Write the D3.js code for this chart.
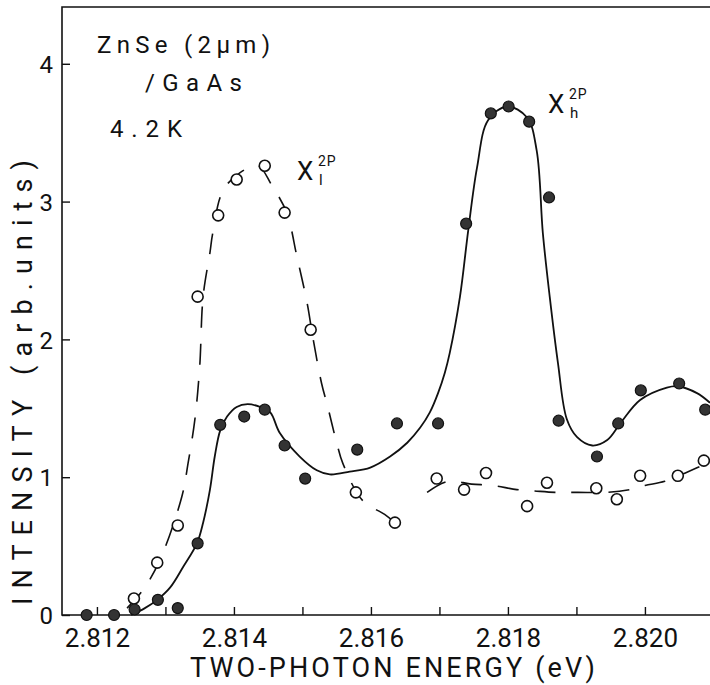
<!DOCTYPE html>
<html>
<head>
<meta charset="utf-8">
<script src="https://cdn.jsdelivr.net/npm/d3@7"></script>
<style>
  html, body { margin: 0; padding: 0; background: #fff; }
  svg text { font-family: Roboto, "DejaVu Sans", sans-serif; fill: #111; }
</style>
</head>
<body>
<svg id="chart" width="710" height="685"></svg>
<script>
// ---- data ----
// X_h^2P : filled circles
const hEnergy = [2.81185, 2.81225, 2.81255, 2.81289, 2.81318, 2.81347, 2.81380, 2.81415, 2.81445, 2.81474, 2.81504,
                 2.81580, 2.81638, 2.81698, 2.81739, 2.81775, 2.81801, 2.81831, 2.81860, 2.81874, 2.81930, 2.81961,
                 2.81994, 2.82050, 2.82088];
const hIntensity = [0.00, 0.00, 0.04, 0.11, 0.05, 0.52, 1.38, 1.44, 1.49, 1.23, 0.99,
                    1.20, 1.39, 1.39, 2.84, 3.64, 3.69, 3.58, 3.03, 1.41, 1.15, 1.39,
                    1.63, 1.68, 1.49];
// X_l^2P : open circles
const lEnergy = [2.81254, 2.81288, 2.81318, 2.81347, 2.81377, 2.81404, 2.81445, 2.81474, 2.81512,
                 2.81578, 2.81635, 2.81696, 2.81736, 2.81768, 2.81828, 2.81857, 2.81929, 2.81959,
                 2.81993, 2.82048, 2.82086];
const lIntensity = [0.12, 0.38, 0.65, 2.31, 2.90, 3.16, 3.26, 2.92, 2.07,
                    0.89, 0.67, 0.99, 0.91, 1.03, 0.79, 0.96, 0.92, 0.84,
                    1.01, 1.01, 1.12];
// solid fitted curve (X_h)
const hFitEnergy = [2.81250, 2.81270, 2.81288, 2.81307, 2.81326, 2.81346, 2.81355, 2.81365, 2.81372, 2.81380,
                    2.81390, 2.81404, 2.81420, 2.81438, 2.81453, 2.81467, 2.81496, 2.81521, 2.81540, 2.81569,
                    2.81599, 2.81628, 2.81653, 2.81672, 2.81686, 2.81698, 2.81708, 2.81715, 2.81730, 2.81742,
                    2.81755, 2.81771, 2.81799, 2.81828, 2.81842, 2.81851, 2.81861, 2.81873, 2.81886, 2.81901,
                    2.81923, 2.81945, 2.81964, 2.81993, 2.82032, 2.82048, 2.82076, 2.82095];
const hFitIntensity = [0.00, 0.05, 0.11, 0.20, 0.35, 0.52, 0.67, 0.91, 1.15, 1.34,
                       1.44, 1.51, 1.53, 1.51, 1.47, 1.32, 1.15, 1.05, 1.02, 1.04,
                       1.07, 1.15, 1.25, 1.36, 1.47, 1.61, 1.76, 1.90, 2.31, 2.79,
                       3.25, 3.59, 3.69, 3.61, 3.37, 2.77, 2.31, 1.83, 1.42, 1.29,
                       1.23, 1.27, 1.39, 1.56, 1.65, 1.66, 1.61, 1.54];
// dashed fitted curve (X_l), two pieces
const lFitEnergyA = [2.81244, 2.81267, 2.81292, 2.81324, 2.81333, 2.81343, 2.81350, 2.81355, 2.81365, 2.81369,
                     2.81384, 2.81409, 2.81435, 2.81455, 2.81477, 2.81492, 2.81507, 2.81515, 2.81528, 2.81537,
                     2.81550, 2.81559, 2.81588, 2.81620, 2.81635];
const lFitIntensityA = [0.05, 0.18, 0.40, 0.86, 1.10, 1.42, 1.80, 2.31, 2.63, 2.77,
                        3.08, 3.21, 3.26, 3.12, 2.92, 2.60, 2.26, 2.02, 1.68, 1.51,
                        1.25, 1.10, 0.83, 0.73, 0.67];
const lFitEnergyB = [2.81682, 2.81712, 2.81747, 2.81778, 2.81813, 2.81839, 2.81869, 2.81902, 2.81945, 2.81978,
                     2.82000, 2.82029, 2.82063, 2.82095];
const lFitIntensityB = [0.89, 0.97, 0.95, 0.94, 0.91, 0.90, 0.89, 0.89, 0.89, 0.91,
                        0.94, 0.97, 1.04, 1.11];
const xTicks = [2.812, 2.813, 2.814, 2.815, 2.816, 2.817, 2.818, 2.819, 2.820];
const xTickLabels = ["2.812", "2.814", "2.816", "2.818", "2.820"];
const yTicks = [0, 1, 2, 3, 4];

// ---- layout ----
const L = 62, R = 710, T = 7, B = 615;
const x = d3.scaleLinear().domain([2.81149, 2.82095]).range([L, R]);
const y = d3.scaleLinear().domain([0, 4.412]).range([B, T]);

const svg = d3.select("#chart");
svg.append("rect").attr("width", 710).attr("height", 685).attr("fill", "#fff");

svg.append("defs").append("clipPath").attr("id", "clip")
  .append("rect").attr("x", L).attr("y", T).attr("width", R - L).attr("height", B - T + 2);

// axes frame (left, bottom, top)
const frame = svg.append("g").attr("stroke", "#111").attr("stroke-width", 1.6).attr("fill", "none");
frame.append("path").attr("d", `M${R},${T}H${L}V${B}H${R}`);

// x ticks (inward)
const xAxis = d3.axisBottom(x).tickValues(xTicks).tickSizeInner(-8).tickSizeOuter(0)
  .tickFormat(d => xTickLabels.includes(d3.format(".3f")(d)) ? d3.format(".3f")(d) : "");
const gx = svg.append("g").attr("transform", `translate(0,${B})`).call(xAxis);
gx.select(".domain").remove();
gx.selectAll(".tick line").attr("stroke", "#111").attr("stroke-width", 1.4);
gx.selectAll(".tick text").attr("dy", 0).attr("y", 32).attr("font-size", 26)
  .style("font-family", "Roboto, 'DejaVu Sans', sans-serif").attr("fill", "#111");

// y ticks (inward)
const yAxis = d3.axisLeft(y).tickValues(yTicks).tickSizeInner(-8).tickSizeOuter(0).tickFormat(d3.format("d"));
const gy = svg.append("g").attr("transform", `translate(${L},0)`).call(yAxis);
gy.select(".domain").remove();
gy.selectAll(".tick line").attr("stroke", "#111").attr("stroke-width", 1.4);
gy.selectAll(".tick text").attr("x", -9).attr("dy", "0.36em").attr("font-size", 24)
  .style("font-family", "Roboto, 'DejaVu Sans', sans-serif").attr("fill", "#111");

// curves
const line = d3.line().x(d => x(d[0])).y(d => y(d[1])).curve(d3.curveCatmullRom.alpha(0.5));
const plot = svg.append("g").attr("clip-path", "url(#clip)");
plot.append("path").datum(d3.zip(hFitEnergy, hFitIntensity))
  .attr("d", line).attr("fill", "none").attr("stroke", "#111").attr("stroke-width", 1.8);
[[lFitEnergyA, lFitIntensityA], [lFitEnergyB, lFitIntensityB]].forEach(([e, v]) => {
  plot.append("path").datum(d3.zip(e, v))
    .attr("d", line).attr("fill", "none").attr("stroke", "#111").attr("stroke-width", 1.6)
    .attr("stroke-dasharray", "21,16");
});

// markers
svg.append("g").selectAll("circle").data(d3.zip(lEnergy, lIntensity)).join("circle")
  .attr("cx", d => x(d[0])).attr("cy", d => y(d[1])).attr("r", 5.5)
  .attr("fill", "#fff").attr("stroke", "#111").attr("stroke-width", 1.6);
svg.append("g").selectAll("circle").data(d3.zip(hEnergy, hIntensity)).join("circle")
  .attr("cx", d => x(d[0])).attr("cy", d => y(d[1])).attr("r", 5.5)
  .attr("fill", "#333").attr("stroke", "#111").attr("stroke-width", 1.2);

// annotations
const ann = svg.append("g").attr("font-size", 24);
ann.append("text").attr("x", 97).attr("y", 53).attr("textLength", 173).attr("lengthAdjust", "spacing").text("ZnSe (2μm)");
ann.append("text").attr("x", 145).attr("y", 91).attr("textLength", 97).attr("lengthAdjust", "spacing").text("/GaAs");
ann.append("text").attr("x", 110).attr("y", 137).attr("textLength", 72).attr("lengthAdjust", "spacing").text("4.2K");

function excitonLabel(px, py, sub) {
  const g = svg.append("g");
  g.append("text").attr("x", px).attr("y", py).attr("font-size", 26).text("X");
  g.append("text").attr("x", px + 21).attr("y", py - 14).attr("font-size", 14).attr("letter-spacing", 1).text("2P");
  g.append("text").attr("x", px + 22).attr("y", py + 5).attr("font-size", 15).text(sub);
}
excitonLabel(297, 180, "l");
excitonLabel(548, 113, "h");

// axis titles
svg.append("text").attr("x", 190).attr("y", 677).attr("font-size", 27)
  .attr("textLength", 405).attr("lengthAdjust", "spacing").text("TWO-PHOTON ENERGY (eV)");
svg.append("text").attr("transform", "translate(32,605) rotate(-90)").attr("font-size", 27)
  .attr("textLength", 445).attr("lengthAdjust", "spacing").text("INTENSITY (arb.units)");
</script>
</body>
</html>
